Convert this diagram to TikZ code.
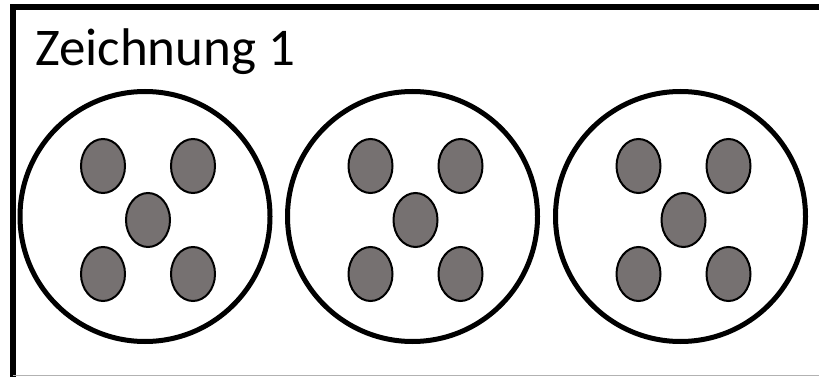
\documentclass[tikz,border=0pt]{standalone}
\usepackage{fontspec}
\setmainfont{Carlito}
\usepackage{tikz}
\usetikzlibrary{positioning}
\definecolor{DotGray}{RGB}{118,113,113}

\begin{document}
\begin{tikzpicture}[x=1pt, y=-1pt,
		plate/.style={line width=5pt},
		dot/.style={draw, line width=2pt, fill=DotGray}]
		\useasboundingbox (0,0) rectangle (819,377);
		
		% Rahmen, rechts und unten abgeschnitten
		\draw[line width=6pt] (12.8,377) -- (12.8,7) -- (819,7);
		\draw[gray!60, line width=1pt] (12.8,375.5) -- (819,375.5);
		
		\node[anchor=base west, inner sep=0pt, font=\fontsize{53}{60}\selectfont] (title) at (35,66) {Zeichnung 1};
		
		% drei Schalen mit je fuenf Punkten
		\foreach \cx in {145, 412.5, 680.5} {
			\draw[plate] (\cx,216.5) circle (125pt);
			\foreach \dx/\dy in {-45/-54, 45/-54, 0/0, -45/54, 45/54}
				\draw[dot] (\cx+3+\dx,220+\dy) ellipse [x radius=22pt, y radius=27pt];
		}
	\end{tikzpicture}
\end{document}
